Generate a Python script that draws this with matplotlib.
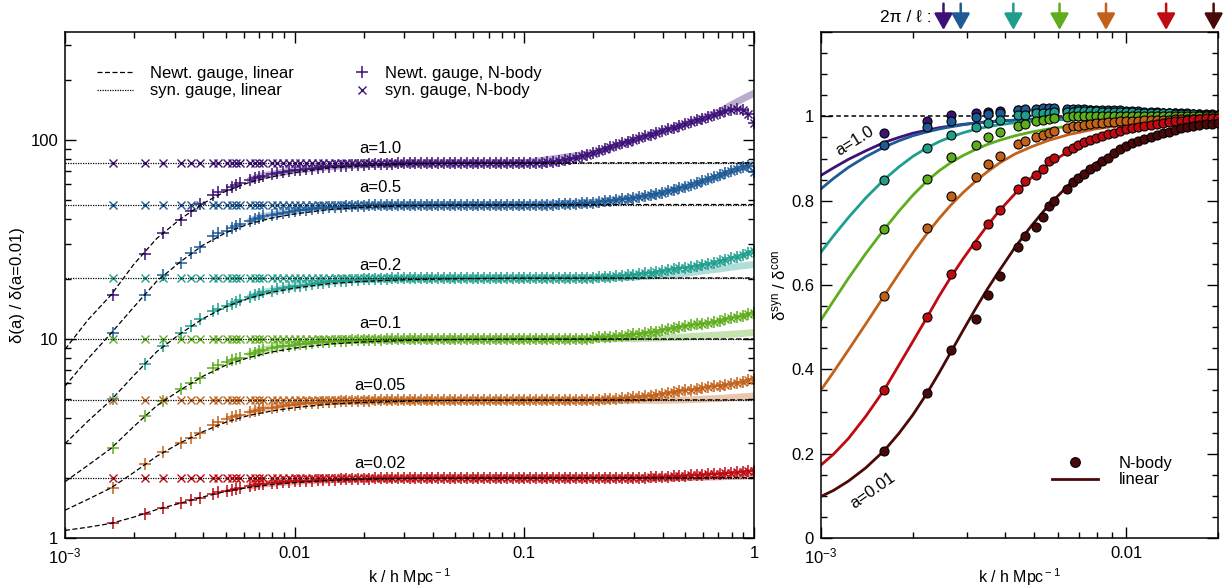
import matplotlib
matplotlib.use("Agg")
import matplotlib.pyplot as plt
from matplotlib.lines import Line2D
from matplotlib.ticker import FixedLocator, FixedFormatter, NullFormatter

plt.rcParams["font.family"] = ["Liberation Sans", "DejaVu Sans"]
plt.rcParams["mathtext.fontset"] = "custom"
plt.rcParams["mathtext.rm"] = "Liberation Sans"
plt.rcParams["mathtext.it"] = "Liberation Sans:italic"
plt.rcParams["mathtext.bf"] = "Liberation Sans:bold"
plt.rcParams["font.size"] = 12

# ---------------- data ----------------
labels_left = ["a=1.0", "a=0.5", "a=0.2", "a=0.1", "a=0.05", "a=0.02"]
colors = ["#3d1177", "#1d5a96", "#1f9e8e", "#5ead1c", "#c2621a", "#bf0a12", "#4a0909"]

# k of the N-body bins (h/Mpc)
k_low = [0.00161, 0.00223, 0.00266, 0.00321, 0.00353, 0.00386, 0.00443, 0.00465,
         0.00505, 0.00533, 0.00558, 0.00580, 0.00639, 0.00669, 0.00698, 0.00730]
k_high_nb = [0.007943, 0.008414, 0.008913, 0.009441, 0.01000, 0.010593, 0.011220, 0.011885, 0.012589, 0.013335,
             0.014125, 0.014962, 0.015849, 0.016788, 0.017783, 0.018836, 0.019953, 0.021135, 0.022387, 0.023714,
             0.025119, 0.026607, 0.028184, 0.029854, 0.031623, 0.033497, 0.035481, 0.037584, 0.039811, 0.042170,
             0.044668, 0.047315, 0.050119, 0.053088, 0.056234, 0.059566, 0.063096, 0.066834, 0.070795, 0.074989,
             0.079433, 0.084140, 0.089125, 0.094406, 0.10000, 0.10593, 0.11220, 0.11885, 0.12589, 0.13335,
             0.14125, 0.14962, 0.15849, 0.16788, 0.17783, 0.18836, 0.19953, 0.21135, 0.22387, 0.23714,
             0.25119, 0.26607, 0.28184, 0.29854, 0.31623, 0.33497, 0.35481, 0.37584, 0.39811, 0.42170,
             0.44668, 0.47315, 0.50119, 0.53088, 0.56234, 0.59566, 0.63096, 0.66834, 0.70795, 0.74989,
             0.79433, 0.84140, 0.89125, 0.94406, 1.0]
k_high_ratio = [0.007586, 0.007943, 0.008318, 0.008710, 0.009120, 0.009550, 0.01000, 0.01047, 0.01096, 0.01148,
                0.01202, 0.01259, 0.01318, 0.01380, 0.01445, 0.01514, 0.01585, 0.01660, 0.01738, 0.01820,
                0.01905, 0.01995]
k_nb = k_low + k_high_nb
k_ratio = k_low + k_high_ratio
k_tail = [0.1, 0.2, 0.3, 0.4, 0.5, 0.6, 0.7, 0.8, 0.9, 1.0]

# linear theory, left panel (Newtonian gauge curve; synchronous gauge is flat)
k_lin = [1.0e-3, 1.259e-3, 1.585e-3, 1.995e-3, 2.512e-3, 3.162e-3, 3.981e-3, 5.012e-3, 6.310e-3,
         7.943e-3, 1.0e-2, 1.413e-2, 1.995e-2, 3.162e-2, 5.012e-2, 0.1, 0.3162, 1.0]
syn_level = [77.0, 47.5, 20.3, 10.02, 4.95, 2.01]
newt_lin_a10 = [8.88, 12.49, 16.65, 23.8, 32.1, 39.95, 48.0, 55.4, 61.2, 65.5, 68.8, 72.5, 74.4, 75.8, 76.5, 76.8, 77.0, 77.0]
newt_lin_a05 = [5.80, 7.97, 10.68, 14.51, 19.57, 24.36, 29.63, 34.26, 37.91, 40.6, 42.6, 44.85, 46.0, 46.85, 47.2, 47.4, 47.5, 47.5]
newt_lin_a02 = [2.98, 3.87, 4.93, 6.57, 8.66, 10.6, 12.66, 14.54, 16.05, 17.2, 18.05, 19.0, 19.52, 19.93, 20.1, 20.25, 20.3, 20.3]
newt_lin_a01 = [1.919, 2.32, 2.82, 3.64, 4.63, 5.53, 6.50, 7.39, 8.07, 8.61, 9.01, 9.44, 9.68, 9.86, 9.95, 10.0, 10.02, 10.02]
newt_lin_a005 = [1.379, 1.565, 1.785, 2.136, 2.58, 3.0, 3.42, 3.82, 4.13, 4.35, 4.52, 4.71, 4.80, 4.88, 4.92, 4.94, 4.95, 4.95]
newt_lin_a002 = [1.092, 1.133, 1.184, 1.274, 1.391, 1.494, 1.608, 1.715, 1.796, 1.855, 1.898, 1.947, 1.973, 1.992, 2.0, 2.005, 2.01, 2.01]

# N-body, synchronous gauge (on k_nb)
syn_nb_a10 = [77.0] * 64 + [77.5, 78.0, 78.7, 79.6, 80.6, 81.7, 83.0, 84.2, 86.0, 88.0,
                            90.5, 92.5, 94.5, 96.5, 98.5, 100.5, 102.5, 104.5, 106.8, 109.0,
                            111.2, 113.5, 115.8, 118.3, 120.8, 123.3, 125.8, 128.2, 130.8, 133.5,
                            136.5, 139.5, 142.0, 143.5, 142.0, 135.0, 122.0]
syn_nb_a05 = [47.5] * 66 + [47.6, 47.7, 47.9, 48.0, 48.2, 48.4, 48.6, 48.9, 49.2, 49.6,
                            50.0, 50.4, 50.8, 51.2, 51.7, 52.3, 53.0, 53.7, 54.5, 55.4,
                            56.3, 57.3, 58.3, 59.5, 60.8, 62.1, 63.5, 65.1, 66.8, 68.5,
                            70.3, 72.0, 73.5, 74.0, 69.0]
syn_nb_a02 = [20.3] * 70 + [20.35, 20.38, 20.4, 20.45, 20.5, 20.6, 20.7, 20.8, 20.9, 21.05,
                            21.2, 21.4, 21.6, 21.8, 22.0, 22.2, 22.4, 22.65, 22.9, 23.1,
                            23.3, 23.55, 23.8, 24.2, 24.6, 25.0, 25.5, 26.0, 26.6, 27.1, 27.7]
syn_nb_a01 = [10.05] * 72 + [10.15, 10.2, 10.25, 10.3, 10.35, 10.42, 10.5, 10.55, 10.6, 10.7,
                             10.8, 10.92, 11.05, 11.2, 11.35, 11.48, 11.6, 11.72, 11.85, 11.98,
                             12.1, 12.25, 12.4, 12.58, 12.75, 12.92, 13.1, 13.35, 13.6]
syn_nb_a005 = [4.92] * 72 + [4.95, 4.96, 4.98, 5.0, 5.02, 5.05, 5.07, 5.1, 5.12, 5.16,
                             5.2, 5.25, 5.3, 5.36, 5.42, 5.47, 5.52, 5.57, 5.62, 5.67,
                             5.72, 5.78, 5.84, 5.9, 5.97, 6.04, 6.12, 6.21, 6.3]
syn_nb_a002 = [2.01] * 82 + [2.02, 2.025, 2.03, 2.035, 2.04, 2.05, 2.06, 2.065, 2.07, 2.08,
                             2.09, 2.1, 2.11, 2.12, 2.13, 2.14, 2.15, 2.165, 2.18]

# N-body, Newtonian gauge: first 40 bins (above k~0.03 identical to synchronous)
newt_lo_a10 = [16.7, 26.8, 34.2, 39.6, 44.0, 47.6, 53.3, 54.8, 56.5, 58.0, 59.5, 61.0, 63.0, 64.3, 65.3, 66.3,
               67.3, 68.2, 69.0, 69.8, 70.5, 71.0, 71.5, 72.0, 72.5, 73.0, 73.4, 73.8, 74.1, 74.4, 74.7, 75.0,
               75.2, 75.5, 75.7, 75.9, 76.1, 76.3, 76.5, 76.7]
newt_lo_a05 = [10.78, 16.7, 21.1, 24.2, 27.1, 29.0, 32.9, 34.0, 34.8, 36.4, 37.2, 37.8, 39.3, 40.1, 40.8, 41.4,
               42.0, 42.6, 43.1, 43.6, 44.0, 44.4, 44.8, 45.1, 45.4, 45.7, 45.9, 46.1, 46.3, 46.5, 46.7, 46.8,
               46.9, 47.0, 47.1, 47.2, 47.3, 47.3, 47.4, 47.4]
newt_lo_a02 = [4.97, 7.47, 9.21, 10.78, 11.7, 12.55, 13.8, 14.2, 14.6, 15.1, 15.4, 15.7, 16.3, 16.6, 16.9, 17.2,
               17.5, 17.8, 18.0, 18.2, 18.4, 18.6, 18.8, 19.0, 19.1, 19.2, 19.35, 19.5, 19.6, 19.7, 19.8, 19.9,
               19.95, 20.0, 20.05, 20.1, 20.15, 20.2, 20.2, 20.25]
newt_lo_a01 = [2.84, 4.10, 4.88, 5.59, 6.03, 6.38, 7.18, 7.4, 7.67, 7.85, 7.95, 8.05, 8.4, 8.55, 8.7, 8.85,
               9.0, 9.1, 9.2, 9.28, 9.35, 9.42, 9.5, 9.56, 9.62, 9.67, 9.72, 9.76, 9.8, 9.83, 9.86, 9.88,
               9.9, 9.92, 9.94, 9.95, 9.96, 9.97, 9.98, 9.99]
newt_lo_a005 = [1.789, 2.35, 2.70, 3.01, 3.19, 3.36, 3.72, 3.83, 3.95, 4.05, 4.10, 4.15, 4.28, 4.35, 4.42, 4.48,
                4.53, 4.58, 4.62, 4.66, 4.69, 4.72, 4.75, 4.77, 4.79, 4.81, 4.83, 4.85, 4.86, 4.87, 4.88, 4.89,
                4.90, 4.91, 4.92, 4.92, 4.93, 4.93, 4.94, 4.94]
newt_lo_a002 = [1.185, 1.325, 1.42, 1.494, 1.547, 1.594, 1.670, 1.70, 1.722, 1.75, 1.77, 1.789, 1.82, 1.84, 1.86, 1.87,
                1.885, 1.895, 1.905, 1.915, 1.925, 1.935, 1.94, 1.945, 1.95, 1.955, 1.96, 1.965, 1.97, 1.975, 1.98, 1.983,
                1.986, 1.99, 1.992, 1.994, 1.996, 1.998, 2.0, 2.0]

# second (pale) run at high k, on k_tail
tail_a10 = [77.0, 86.0, 100.5, 111.0, 120.5, 129.0, 138.0, 151.0, 162.0, 172.0]
tail_a05 = [47.5, 48.6, 51.3, 54.5, 58.3, 61.8, 65.5, 70.0, 73.5, 76.0]
tail_a02 = [20.3, 20.35, 20.5, 20.9, 21.4, 22.0, 22.5, 23.0, 23.4, 23.7]
tail_a01 = [10.05, 10.05, 10.05, 10.15, 10.25, 10.38, 10.48, 10.58, 10.68, 10.8]
tail_a005 = [4.92, 4.92, 4.92, 4.92, 4.95, 4.99, 5.03, 5.08, 5.13, 5.17]
tail_a002 = [2.01, 2.01, 2.01, 2.01, 2.01, 2.02, 2.03, 2.04, 2.05, 2.06]

# right panel: delta_syn / delta_con
labels_right = ["a=1.0", "a=0.5", "a=0.2", "a=0.1", "a=0.05", "a=0.02", "a=0.01"]
ratio_nb_a10 = [0.961, 0.988, 1.002, 1.007, 1.011, 1.012, 1.014, 1.015, 1.015, 1.016, 1.016, 1.016, 1.016, 1.015, 1.015, 1.014,
                1.014, 1.013, 1.013, 1.012, 1.012, 1.011, 1.011, 1.010, 1.010, 1.009, 1.009, 1.008, 1.008, 1.007, 1.007,
                1.006, 1.006, 1.005, 1.005, 1.004, 1.004, 1.003]
ratio_nb_a05 = [0.932, 0.974, 0.990, 0.999, 1.006, 1.007, 1.015, 1.017, 1.018, 1.019, 1.019, 1.019, 1.018, 1.018, 1.017, 1.017,
                1.016, 1.016, 1.015, 1.015, 1.014, 1.014, 1.013, 1.012, 1.012, 1.011, 1.010, 1.010, 1.009, 1.008, 1.008,
                1.007, 1.007, 1.006, 1.006, 1.005, 1.005, 1.004]
ratio_nb_a02 = [0.848, 0.924, 0.956, 0.974, 0.984, 0.991, 1.002, 1.004, 1.007, 1.008, 1.009, 1.010, 1.011, 1.011, 1.012, 1.012,
                1.012, 1.012, 1.011, 1.011, 1.011, 1.010, 1.010, 1.010, 1.009, 1.009, 1.008, 1.008, 1.007, 1.007, 1.006,
                1.006, 1.005, 1.005, 1.004, 1.004, 1.003, 1.003]
ratio_nb_a01 = [0.732, 0.852, 0.903, 0.932, 0.950, 0.962, 0.978, 0.982, 0.988, 0.991, 0.994, 0.996, 0.999, 1.000, 1.000, 1.001,
                1.001, 1.001, 1.001, 1.001, 1.001, 1.001, 1.001, 1.000, 1.000, 1.000, 1.000, 1.000, 1.000, 1.000, 1.000,
                1.000, 1.000, 1.000, 1.000, 1.000, 1.000, 1.000]
ratio_nb_a005 = [0.573, 0.734, 0.811, 0.856, 0.887, 0.905, 0.935, 0.942, 0.950, 0.956, 0.961, 0.966, 0.973, 0.976, 0.978, 0.980,
                 0.982, 0.984, 0.985, 0.986, 0.987, 0.988, 0.989, 0.990, 0.990, 0.991, 0.991, 0.992, 0.992, 0.992, 0.993,
                 0.993, 0.993, 0.994, 0.994, 0.994, 0.995, 0.995]
ratio_nb_a002 = [0.351, 0.523, 0.625, 0.694, 0.744, 0.779, 0.828, 0.846, 0.862, 0.876, 0.893, 0.901, 0.917, 0.924, 0.932, 0.938,
                 0.945, 0.948, 0.953, 0.957, 0.960, 0.965, 0.969, 0.972, 0.975, 0.977, 0.980, 0.982, 0.985, 0.987, 0.989,
                 0.990, 0.991, 0.993, 0.994, 0.995, 0.996, 0.997]
ratio_nb_a001 = [0.207, 0.345, 0.446, 0.519, 0.576, 0.621, 0.690, 0.716, 0.737, 0.761, 0.787, 0.800, 0.828, 0.844, 0.853, 0.864,
                 0.874, 0.882, 0.893, 0.902, 0.912, 0.922, 0.930, 0.936, 0.941, 0.946, 0.951, 0.956, 0.960, 0.964, 0.968,
                 0.972, 0.975, 0.977, 0.980, 0.982, 0.983, 0.985]

k_lin_r = [1.0e-3, 1.1e-3, 1.23e-3, 1.4e-3, 1.61e-3, 1.8e-3, 2.0e-3, 2.22e-3, 2.44e-3, 2.66e-3, 2.92e-3, 3.2e-3,
           3.5e-3, 3.84e-3, 4.33e-3, 4.9e-3, 5.57e-3, 6.5e-3, 7.91e-3, 1.0e-2, 1.28e-2, 1.6e-2, 2.0e-2]
ratio_lin_a10 = [0.860, 0.878, 0.898, 0.918, 0.938, 0.950, 0.960, 0.967, 0.973, 0.977, 0.981, 0.984,
                 0.987, 0.989, 0.991, 0.993, 0.995, 0.996, 0.997, 0.998, 0.999, 1.0, 1.0]
ratio_lin_a05 = [0.828, 0.853, 0.879, 0.904, 0.927, 0.942, 0.954, 0.963, 0.970, 0.975, 0.980, 0.984,
                 0.987, 0.989, 0.991, 0.993, 0.995, 0.996, 0.997, 0.998, 0.999, 1.0, 1.0]
ratio_lin_a02 = [0.678, 0.717, 0.760, 0.806, 0.850, 0.880, 0.905, 0.925, 0.940, 0.951, 0.961, 0.969,
                 0.975, 0.980, 0.985, 0.988, 0.991, 0.993, 0.995, 0.997, 0.998, 0.999, 1.0]
ratio_lin_a01 = [0.517, 0.563, 0.616, 0.674, 0.732, 0.775, 0.813, 0.846, 0.871, 0.890, 0.907, 0.921,
                 0.933, 0.943, 0.954, 0.963, 0.970, 0.977, 0.984, 0.989, 0.993, 0.996, 0.998]
ratio_lin_a005 = [0.351, 0.394, 0.446, 0.507, 0.574, 0.627, 0.676, 0.721, 0.758, 0.789, 0.819, 0.845,
                  0.868, 0.889, 0.911, 0.928, 0.943, 0.957, 0.970, 0.980, 0.987, 0.992, 0.995]
ratio_lin_a002 = [0.173, 0.199, 0.236, 0.288, 0.351, 0.410, 0.466, 0.522, 0.574, 0.618, 0.662, 0.702,
                  0.740, 0.776, 0.817, 0.855, 0.887, 0.918, 0.946, 0.968, 0.982, 0.991, 0.996]
ratio_lin_a001 = [0.0985, 0.113, 0.135, 0.166, 0.207, 0.248, 0.292, 0.342, 0.392, 0.440, 0.492, 0.542,
                  0.589, 0.634, 0.690, 0.741, 0.789, 0.838, 0.888, 0.929, 0.958, 0.975, 0.986]

# 2pi/l arrows at the top of the right panel
arrow_k = [2.52e-3, 2.87e-3, 4.27e-3, 6.05e-3, 8.59e-3, 1.352e-2, 1.935e-2]

newt_lin = [newt_lin_a10, newt_lin_a05, newt_lin_a02, newt_lin_a01, newt_lin_a005, newt_lin_a002]
syn_nb = [syn_nb_a10, syn_nb_a05, syn_nb_a02, syn_nb_a01, syn_nb_a005, syn_nb_a002]
newt_lo = [newt_lo_a10, newt_lo_a05, newt_lo_a02, newt_lo_a01, newt_lo_a005, newt_lo_a002]
tails = [tail_a10, tail_a05, tail_a02, tail_a01, tail_a005, tail_a002]
ratio_nb = [ratio_nb_a10, ratio_nb_a05, ratio_nb_a02, ratio_nb_a01, ratio_nb_a005, ratio_nb_a002, ratio_nb_a001]
ratio_lin = [ratio_lin_a10, ratio_lin_a05, ratio_lin_a02, ratio_lin_a01, ratio_lin_a005, ratio_lin_a002, ratio_lin_a001]

# label anchors (data coords)
label_y_left = [91.0, 58.0, 23.5, 12.0, 5.87, 2.38]

# ---------------- figure ----------------
W, H = 1225.0, 587.0
fig = plt.figure(figsize=(12.25, 5.87), dpi=100)
ax1 = fig.add_axes([65 / W, 1 - 538 / H, (754 - 65) / W, (538 - 32) / H])
ax2 = fig.add_axes([821 / W, 1 - 538 / H, (1218 - 821) / W, (538 - 32) / H])

# ---- left panel ----
for i in range(6):
    c = colors[i]
    newt_nb = newt_lo[i] + syn_nb[i][len(newt_lo[i]):]
    light_k = k_nb[12:60] + k_tail
    light_v = newt_nb[12:60] + tails[i]
    ax1.plot(light_k, light_v, color=c, alpha=0.35, lw=5, solid_capstyle="round", zorder=1)
    ax1.plot(k_nb, syn_nb[i], ls="none", marker="x", ms=6.3, mew=1.0, color=c, zorder=2)
    ax1.plot(k_nb, newt_nb, ls="none", marker="+", ms=8.5, mew=1.1, color=c, zorder=2)
    ax1.plot(k_lin, newt_lin[i], color="k", lw=0.9, dashes=(4, 2), zorder=3)
    ax1.plot([1e-3, 1.0], [syn_level[i], syn_level[i]], color="k", lw=0.9, dashes=(1, 1), zorder=3)
    ax1.text(0.0235, label_y_left[i], labels_left[i], ha="center", va="center", fontsize=12)

ax1.set_xscale("log")
ax1.set_yscale("log")
ax1.set_xlim(1e-3, 1.0)
ax1.set_ylim(1.0, 350.0)
ax1.xaxis.set_major_locator(FixedLocator([1e-3, 1e-2, 1e-1, 1.0]))
ax1.xaxis.set_major_formatter(FixedFormatter([r"$10^{-3}$", "0.01", "0.1", "1"]))
ax1.xaxis.set_minor_locator(FixedLocator([m * 10.0 ** e for e in (-3, -2, -1) for m in range(2, 10)]))
ax1.xaxis.set_minor_formatter(NullFormatter())
ax1.yaxis.set_major_locator(FixedLocator([1.0, 10.0, 100.0]))
ax1.yaxis.set_major_formatter(FixedFormatter(["1", "10", "100"]))
ax1.yaxis.set_minor_locator(FixedLocator([m * 10.0 ** e for e in (0, 1, 2) for m in range(2, 10)]))
ax1.yaxis.set_minor_formatter(NullFormatter())
ax1.set_xlabel(r"k / h Mpc$^{\rm -1}$", fontsize=11.5, labelpad=0)
ax1.set_ylabel("δ(a) / δ(a=0.01)", fontsize=12, labelpad=4)

# legend: line styles (left column) and marker types (right column)
line_handles = [Line2D([], [], color="k", lw=0.9, dashes=(4, 2)),
                Line2D([], [], color="k", lw=0.9, dashes=(1, 1))]
leg_lines = ax1.legend(line_handles, ["Newt. gauge, linear", "syn. gauge, linear"],
                       loc="upper left", bbox_to_anchor=(0.046, 0.933), frameon=False, borderaxespad=0,
                       borderpad=0, handlelength=2.2, handletextpad=1.0, labelspacing=0.15, fontsize=12)
ax1.add_artist(leg_lines)
marker_handles = [Line2D([], [], ls="none", marker="+", ms=8.5, mew=1.1, color=colors[0]),
                  Line2D([], [], ls="none", marker="x", ms=6.3, mew=1.0, color=colors[0])]
ax1.legend(marker_handles, ["Newt. gauge, N-body", "syn. gauge, N-body"],
           loc="upper left", bbox_to_anchor=(0.4136, 0.933), frameon=False, borderaxespad=0,
           borderpad=0, handlelength=1.45, handletextpad=0.65, labelspacing=0.15, fontsize=12)

# ---- right panel ----
ax2.axhline(1.0, color="k", lw=1.1, dashes=(3, 2), zorder=1)
for i in range(7):
    c = colors[i]
    ax2.plot(k_lin_r, ratio_lin[i], color=c, lw=2, zorder=2 + i * 0.1)
    ax2.plot(k_ratio, ratio_nb[i], ls="none", marker="o", ms=6.5, mew=0.8, mfc=c, mec="k", zorder=3 + i * 0.1)

ax2.text(1.293e-3, 0.9425, labels_right[0], rotation=32, ha="center", va="center", fontsize=12)
ax2.text(1.481e-3, 0.112, labels_right[6], rotation=35, ha="center", va="center", fontsize=12)

for kk, cc in zip(arrow_k, colors):
    ax2.annotate("", xy=(kk, 1.004), xycoords=("data", "axes fraction"),
                 xytext=(kk, 1.056), textcoords=("data", "axes fraction"),
                 arrowprops=dict(arrowstyle="-|>,head_length=0.5,head_width=0.28", color=cc, lw=1.8,
                                 shrinkA=0, shrinkB=0, mutation_scale=20),
                 annotation_clip=False)
ax2.text(2.31e-3, 1.028, "2π / ℓ :", transform=ax2.get_xaxis_transform(), ha="right", va="center", fontsize=12.5)

ax2.set_xscale("log")
ax2.set_xlim(1e-3, 0.02)
ax2.set_ylim(0.0, 1.2)
ax2.xaxis.set_major_locator(FixedLocator([1e-3, 1e-2]))
ax2.xaxis.set_major_formatter(FixedFormatter([r"$10^{-3}$", "0.01"]))
ax2.xaxis.set_minor_locator(FixedLocator([m * 1e-3 for m in range(2, 10)] + [2e-2]))
ax2.xaxis.set_minor_formatter(NullFormatter())
ax2.yaxis.set_major_locator(FixedLocator([0.0, 0.2, 0.4, 0.6, 0.8, 1.0, 1.2]))
ax2.yaxis.set_major_formatter(FixedFormatter(["0", "0.2", "0.4", "0.6", "0.8", "1", ""]))
ax2.yaxis.set_minor_locator(FixedLocator([0.05 * j for j in range(25)]))
ax2.yaxis.set_minor_formatter(NullFormatter())
ax2.set_xlabel(r"k / h Mpc$^{\rm -1}$", fontsize=11.5, labelpad=0)
ax2.set_ylabel(r"δ$^{\rm syn}$ / δ$^{\rm con}$", fontsize=12, labelpad=2)

ax2.legend([Line2D([], [], ls="none", marker="o", ms=7, mfc=colors[6], mec="k", mew=0.8),
            Line2D([], [], color=colors[6], lw=2)],
           ["N-body", "linear"], loc="lower right", bbox_to_anchor=(0.885, 0.1), frameon=False,
           borderaxespad=0, borderpad=0, handlelength=2.8, handletextpad=1.2, labelspacing=0.1, fontsize=12)

for ax in (ax1, ax2):
    ax.tick_params(which="both", direction="in", top=True, right=True, labelsize=12, width=1.0)
    ax.tick_params(which="major", length=8)
    ax.tick_params(which="minor", length=4.5)
    ax.tick_params(axis="x", which="major", pad=6)
    ax.tick_params(axis="y", which="major", pad=5)
    for s in ax.spines.values():
        s.set_linewidth(1.1)

fig.savefig("out.png", dpi=100)
